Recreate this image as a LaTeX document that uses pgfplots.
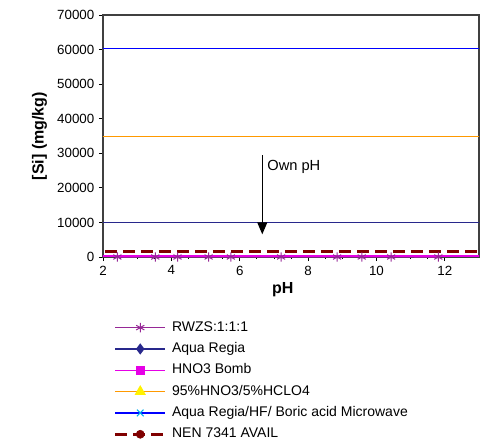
\documentclass[border=0pt]{standalone}
\usepackage{fontspec}
\setmainfont{Liberation Sans}
\usepackage{pgfplots}
\pgfplotsset{compat=1.18}
\usetikzlibrary{arrows.meta}
\definecolor{rwzs}{RGB}{150,40,150}
\definecolor{aqua}{RGB}{40,40,140}
\definecolor{bomb}{RGB}{230,0,230}
\definecolor{hclo}{RGB}{255,153,0}
\definecolor{micro}{RGB}{0,0,255}
\definecolor{nen}{RGB}{128,0,0}
\begin{document}
\begin{tikzpicture}
\useasboundingbox (-77.25pt,-141.75pt) rectangle (284.25pt,192.75pt);
\begin{axis}[
  width=282pt, height=181.5pt, scale only axis,
  xmin=2, xmax=13, ymin=0, ymax=70000,
  xtick={2,4,6,8,10,12}, ytick={0,10000,...,70000},
  minor x tick num=3,
  scaled y ticks=false,
  /pgf/number format/assume math mode=true,
  /pgf/number format/set thousands separator={},
  tick label style={font=\fontsize{10}{12}\selectfont},
  tick align=outside, tick pos=left,
  major tick length=3pt, minor tick length=1.5pt,
  axis line style={draw=black!75, line width=1pt},
  every tick/.style={black, line width=0.6pt},
  xlabel={pH}, ylabel={[Si] (mg/kg)},
  label style={font=\fontsize{12}{14}\selectfont\bfseries},
  xlabel style={at={(axis description cs:0.478,-0.1364)}, anchor=center},
  ylabel style={at={(axis description cs:-0.1688,0.5)}, anchor=center},
  legend style={at={(axis description cs:0.0279,-0.2645)}, anchor=north west,
    draw=none, fill=none, font=\fontsize{10.5}{12}\selectfont,
    row sep=6.5pt, inner sep=0pt,
    nodes={inner sep=0pt, text height=7.5pt, text depth=2pt},
    column sep=4pt},
  legend cell align=left,
  legend image code/.code={\draw[mark repeat=2,mark phase=2] plot coordinates {(0pt,0pt) (18.75pt,0pt) (37.5pt,0pt)};},
]
% Aqua Regia/HF/Boric acid Microwave
\addplot[micro, line width=0.75pt, forget plot] coordinates {(1,60350) (14,60350)};
% 95%HNO3/5%HCLO4
\addplot[hclo, line width=0.75pt, forget plot] coordinates {(1,34870) (14,34870)};
% Aqua Regia
\addplot[aqua, line width=0.75pt, forget plot] coordinates {(1,10100) (14,10100)};
% NEN 7341 AVAIL
\addplot[nen, line width=2.25pt, dash pattern=on 9pt off 4.5pt, forget plot] coordinates {(1,1600) (14,1600)};
% RWZS
\addplot[rwzs, line width=0.75pt, mark=asterisk, mark size=3.5pt, mark options={line width=0.75pt}, forget plot] coordinates {
(2.42,0) (3.53,0) (4.18,0) (5.09,0) (5.74,0) (7.21,0) (8.85,0) (9.57,0) (10.43,0) (11.81,0)};
% HNO3 Bomb
\addplot[bomb, line width=1.2pt, forget plot] coordinates {(1,250) (14,250)};
% Own pH arrow
\draw[black, line width=0.75pt, -{Triangle[width=7.5pt,length=9pt]}] (axis cs:6.66,29450) -- (axis cs:6.66,6570);
\node[anchor=west, font=\fontsize{11}{13}\selectfont, inner sep=0pt] at (axis cs:6.80,26000) {Own pH};
% legend
\addlegendimage{rwzs, line width=0.9pt, mark=asterisk, mark size=3.5pt, mark options={line width=0.75pt}}
\addlegendentry{RWZS:1:1:1}
\addlegendimage{aqua, line width=0.9pt, mark=diamond*, mark size=3.5pt, mark options={fill=aqua, draw=aqua}}
\addlegendentry{Aqua Regia}
\addlegendimage{bomb, line width=0.9pt, mark=square*, mark size=3pt, mark options={fill=bomb, draw=bomb}}
\addlegendentry{HNO3 Bomb}
\addlegendimage{hclo, line width=0.9pt, mark=triangle*, mark size=4pt, mark options={fill=yellow, draw=yellow}}
\addlegendentry{95\%HNO3/5\%HCLO4}
\addlegendimage{micro, line width=0.9pt, mark=x, mark size=3.5pt, mark options={draw=cyan, line width=0.75pt}}
\addlegendentry{Aqua Regia/HF/ Boric acid Microwave}
\addlegendimage{nen, line width=2.25pt, dash pattern=on 9pt off 4.5pt, mark=*, mark size=3pt, mark options={solid, fill=nen, draw=nen, line width=0.5pt}}
\addlegendentry{NEN 7341 AVAIL}
\end{axis}
\end{tikzpicture}
\end{document}
